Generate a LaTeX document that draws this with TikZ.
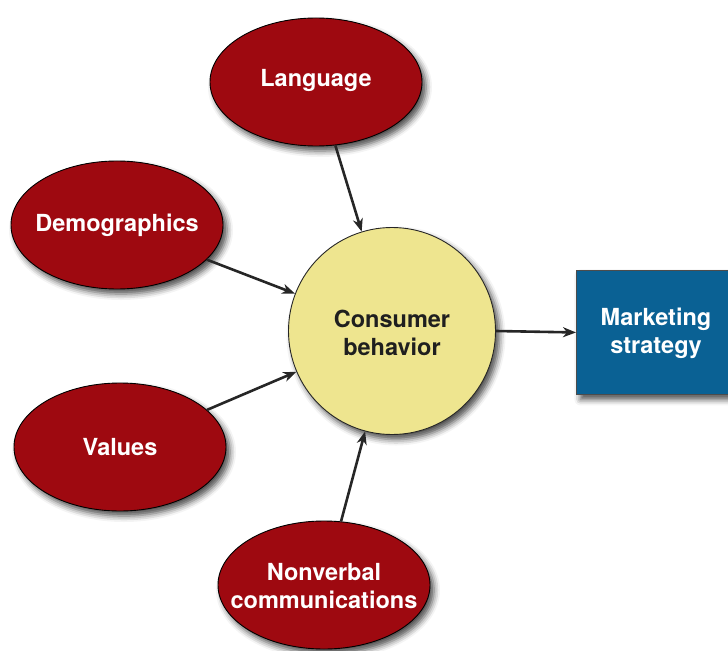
\documentclass[tikz,border=0pt]{standalone}
\usepackage{fontspec}
\newfontfamily\hv{TeX Gyre Heros}
\usetikzlibrary{shapes.geometric,arrows.meta,shadows.blur}
\definecolor{bubred}{HTML}{9E0910}
\definecolor{cbyellow}{HTML}{EEE58F}
\definecolor{msblue}{HTML}{0A6194}
\begin{document}
\begin{tikzpicture}[x=1bp,y=-1bp,
  shad/.style={blur shadow={shadow xshift=4bp,shadow yshift=-5bp,shadow blur radius=6bp,shadow opacity=70}},
  bubble/.style={ellipse,draw=black,line width=0.9bp,fill=bubred,minimum width=212bp,minimum height=128bp,inner sep=0pt,shad},
  btext/.style={text=white,font=\hv\bfseries\fontsize{23.5bp}{28bp}\selectfont,align=center,inner sep=0pt},
  arr/.style={draw=black!85,line width=2.6bp,-{Stealth[length=13bp,width=10bp,inset=4bp]}}
  ]
\useasboundingbox (0,0) rectangle (728,651);
% nodes
\node[bubble] (lang) at (316,82) {};
\node[btext] (langt) at (316,80) {Language};
\node[bubble] (demo) at (117,225) {};
\node[btext] (demot) at (117,225) {Demographics};
\node[bubble] (val) at (120,447) {};
\node[btext] (valt) at (120,447) {Values};
\node[bubble] (nv) at (324,585) {};
\node[btext] (nvt) at (324,586) {Nonverbal\\communications};
\node[circle,draw=black!85,line width=0.9bp,fill=cbyellow,minimum size=207bp,inner sep=0pt,shad] (cb) at (392,331) {};
\node[btext,text=black!88] (cbt) at (392,333) {Consumer\\behavior};
\node[rectangle,draw=black!70,line width=0.9bp,fill=msblue,minimum width=160bp,minimum height=124bp,inner sep=0pt,shad,anchor=north west] (ms) at (576,270) {};
\node[btext] (mst) at (656,333) {Marketing\\strategy};
% connectors
\draw[arr] (lang) -- (cb);
\draw[arr] (demo) -- (cb);
\draw[arr] (val) -- (cb);
\draw[arr] (nv) -- (cb);
\draw[arr] (cb.east) -- (ms.west);
\end{tikzpicture}
\end{document}
